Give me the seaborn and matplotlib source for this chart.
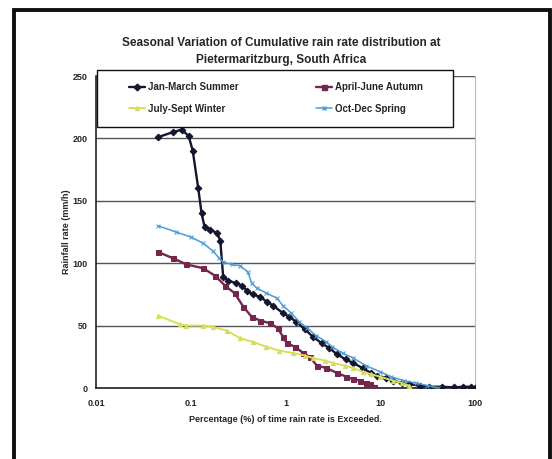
import matplotlib
matplotlib.use("Agg")
import matplotlib.pyplot as plt
import seaborn as sns
import pandas as pd
from matplotlib.patches import Rectangle
from matplotlib.lines import Line2D

# Exceedance percentage (%) and rain rate (mm/h) per season
summer_x = [0.045, 0.065, 0.08, 0.095, 0.105, 0.12, 0.13, 0.14, 0.16, 0.19, 0.205, 0.22,
            0.25, 0.3, 0.35, 0.39, 0.45, 0.54, 0.64, 0.74, 0.94, 1.1, 1.3, 1.6, 1.95, 2.4,
            2.9, 3.5, 4.3, 5.2, 6.5, 8, 9.2, 11.5, 13.6, 17, 20, 26, 33, 45, 60, 75, 90, 100]
summer_y = [201, 205, 207, 202, 190, 160, 140, 129, 127, 124, 118, 89,
            86, 84, 82, 78, 75, 73, 69, 66, 60, 57, 53, 47, 41, 36,
            32, 27, 23, 20, 16, 12, 10, 8, 6, 4, 3, 2, 1, 1, 0.5, 1, 1, 0]

autumn_x = [0.045, 0.065, 0.09, 0.135, 0.18, 0.23, 0.29, 0.36, 0.44, 0.54, 0.68, 0.83,
            0.94, 1.03, 1.26, 1.54, 1.8, 2.14, 2.7, 3.5, 4.4, 5.2, 6.1, 7, 7.8, 8.5]
autumn_y = [109, 104, 99, 96, 90, 82, 76, 65, 57, 54, 52, 48,
            41, 36, 33, 28, 25, 18, 16, 12, 9, 7, 6, 4, 3, 1]

winter_x = [0.045, 0.077, 0.09, 0.135, 0.17, 0.24, 0.33, 0.45, 0.63, 0.85, 1.2, 1.6,
            1.95, 2.6, 3.2, 4.2, 5.2, 6.5, 8, 10, 13.6, 17, 20]
winter_y = [58, 51, 50, 50, 49, 46, 40, 37, 33, 30, 28, 26,
            24, 22, 20, 18, 16, 13, 11, 9, 6, 4, 2]

spring_x = [0.045, 0.07, 0.1, 0.135, 0.17, 0.2, 0.22, 0.27, 0.33, 0.4, 0.44, 0.5,
            0.63, 0.81, 0.94, 1.15, 1.4, 1.7, 2.1, 2.7, 3.1, 4, 5.2, 7, 10, 13,
            17.6, 24, 31, 41]
spring_y = [130, 125, 121, 116, 110, 104, 101, 99, 98, 93, 84, 80,
            76, 72, 66, 60, 53, 48, 42, 37, 33, 28, 24, 18, 13, 9,
            6, 4, 2, 0]

season_names = ["Jan-March Summer", "April-June Autumn", "July-Sept Winter", "Oct-Dec Spring"]
x_ticks = [0.01, 0.1, 1, 10, 100]
x_tick_labels = ["0.01", "0.1", "1", "10", "100"]
y_ticks = [0, 50, 100, 150, 200, 250]

sns.set_style("white")
plt.rcParams["font.family"] = ["Liberation Sans", "DejaVu Sans"]
plt.rcParams["font.weight"] = "bold"

fig = plt.figure(figsize=(5.52, 4.59), dpi=100)
W, H = 552, 459
ax = fig.add_axes([96 / W, 1 - 388 / H, 379 / W, (388 - 76) / H])

styles = [
    dict(color="#14152e", marker="D", ms=3.4, lw=1.7, ls="-"),
    dict(color="#74264d", marker="s", ms=3.6, lw=1.7, ls="-"),
    dict(color="#d6de5c", marker="^", ms=3.0, lw=1.4, ls="-"),
    dict(color="#4f9bd3", marker="x", ms=3.4, lw=1.1, ls="-"),
]
series = [(summer_x, summer_y), (autumn_x, autumn_y), (winter_x, winter_y), (spring_x, spring_y)]

handles = []
for name, (xs, ys), st in zip(season_names, series, styles):
    df = pd.DataFrame({"pct": xs, "rate": ys})
    sns.lineplot(data=df, x="pct", y="rate", ax=ax, estimator=None, sort=False,
                 color=st["color"], marker=st["marker"], markersize=st["ms"],
                 markeredgecolor=st["color"], linewidth=st["lw"], linestyle=st["ls"],
                 zorder=3)
    handles.append(Line2D([], [], color=st["color"], marker=st["marker"], markersize=st["ms"],
                          lw=st["lw"], ls=st["ls"], label=name))

ax.set_xscale("log")
ax.set_xlim(0.01, 100)
ax.set_ylim(0, 250)
ax.set_xticks(x_ticks)
ax.set_xticklabels(x_tick_labels)
ax.xaxis.set_minor_locator(matplotlib.ticker.NullLocator())
ax.set_yticks(y_ticks)
ax.tick_params(axis="both", labelsize=6.5, length=3, width=0.8, color="#333333",
               direction="out", pad=3)
ax.tick_params(axis="x", pad=5)
ax.yaxis.grid(True, color="#555555", lw=1.0)
ax.xaxis.grid(False)

for s in ["left", "bottom"]:
    ax.spines[s].set_color("#222222")
    ax.spines[s].set_linewidth(1.2)
ax.spines["right"].set_color("#bbbbbb")
ax.spines["right"].set_linewidth(0.8)
ax.spines["top"].set_visible(False)

ax.set_xlabel("Percentage (%) of time rain rate is Exceeded.", fontsize=6.5,
              fontweight="bold", labelpad=5)
ax.set_ylabel("Rainfall rate (mm/h)", fontsize=6.5, fontweight="bold", labelpad=1)

fig.text(281 / W, 1 - 43 / H, "Seasonal Variation of Cumulative rain rate distribution at",
         ha="center", va="center", fontsize=8.5, fontweight="bold")
fig.text(281 / W, 1 - 60 / H, "Pietermaritzburg, South Africa",
         ha="center", va="center", fontsize=8.5, fontweight="bold")

# Legend box drawn over the top of the plot area
fig.patches.append(Rectangle((97 / W, 1 - 127 / H), (453 - 97) / W, 57 / H,
                             transform=fig.transFigure, facecolor="white",
                             edgecolor="#111111", linewidth=1.0, zorder=9))
order = [0, 2, 1, 3]
leg = fig.legend([handles[i] for i in order], [season_names[i] for i in order],
                 ncol=2, loc="center", bbox_to_anchor=(276 / W, 1 - 98 / H),
                 frameon=False, fontsize=7, handlelength=1.6, handletextpad=0.3,
                 borderaxespad=0, labelspacing=1.2, columnspacing=8.0)
for t in leg.get_texts():
    t.set_fontweight("bold")
leg.set_zorder(10)

fig.patches.append(Rectangle((14 / W, -0.05), (550 - 14) / W, 1.05 - 10 / H,
                             transform=fig.transFigure, fill=False,
                             edgecolor="#111111", linewidth=2.8))

fig.savefig("out.png", dpi=100)
